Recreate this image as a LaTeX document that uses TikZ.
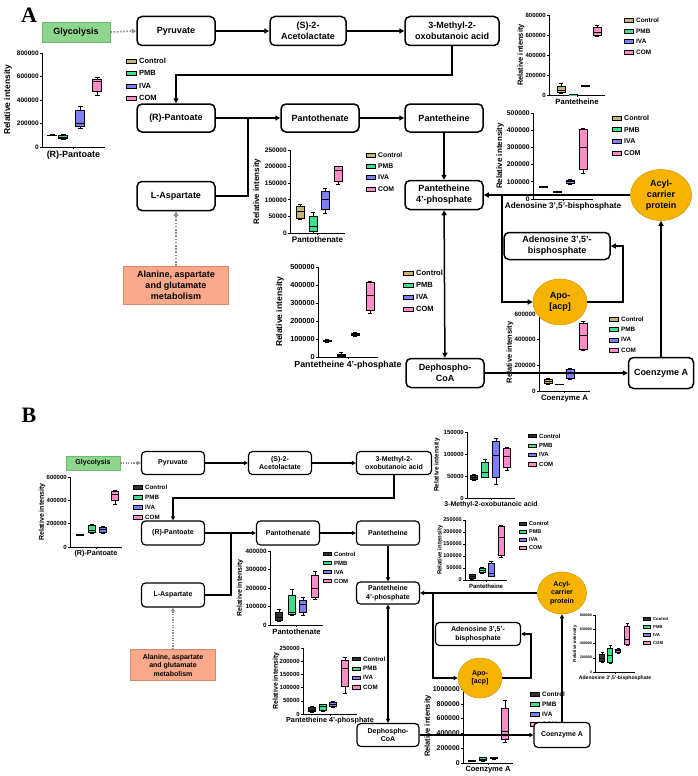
\documentclass[tikz,border=0pt]{standalone}
\usepackage{fontspec}
\setmainfont{Liberation Sans}
\newfontfamily\serifb{Liberation Serif}
\usetikzlibrary{arrows.meta,shapes.geometric,calc}

\definecolor{cctl}{HTML}{C8B474}
\definecolor{cpmb}{HTML}{3EE08A}
\definecolor{civa}{HTML}{7E7EF6}
\definecolor{ccom}{HTML}{FF8CC6}
\definecolor{cctlb}{HTML}{303030}
\definecolor{glyf}{HTML}{8ED68E}
\definecolor{glyd}{HTML}{6DB86D}
\definecolor{alaf}{HTML}{F9A889}
\definecolor{alad}{HTML}{D98A6E}
\definecolor{acpf}{HTML}{F6B400}
\definecolor{acpd}{HTML}{D89A00}
\definecolor{dotg}{HTML}{8E8E8E}

\newcommand\fsl[2]{\fontsize{#1}{#2}\selectfont\bfseries}
\newcommand\fs[1]{\fontsize{#1}{#1}\selectfont\bfseries}

\newcommand\pf[4]{\tikzset{tk/.style={font=\fs{#1}},ttl/.style={font=\fs{#2}},ylab/.style={font=\fs{#3}},bpl/.style={line width=#4},axl/.style={line width=#4}}}

\newcommand\bx[7]{%
 \draw[bpl] (#1,#2) -- (#1,#6);
 \draw[bpl] (#1-\pcap,#2) -- (#1+\pcap,#2) (#1-\pcap,#6) -- (#1+\pcap,#6);
 \filldraw[bpl, fill=#7] (#1-\pbw,#3) rectangle (#1+\pbw,#5);
 \draw[bpl] (#1-\pbw,#4) -- (#1+\pbw,#4);
}

\newcommand\paxes[6]{%
 \draw[axl] (0,#3) -- (0,0) -- (#2,0);
 \foreach \v/\lab [count=\i] in {#4}{\draw[axl] (0,\v) -- (-2,\v) node[tk,left,inner sep=1pt] (#1t\i) {\lab};}
 \draw[axl] (#2/2,0) -- ++(0pt,-2pt);
 \node[ttl,below,inner sep=1pt] (#1ttl) at ([yshift=-2.5pt]#2/2,0) {#5};
 \node[ylab,rotate=90,inner sep=0pt] (#1yl) at ([xshift=-#6pt]0,#3/2) {Relative intensity};
}

\newcommand\plegend[8]{%
 \foreach \nm/\cl [count=\i] in {Control/#5,PMB/cpmb,IVA/civa,COM/ccom}{%
  \pgfmathsetmacro\yy{#3+(\i-1)*#4}
  \filldraw[line width=0.5pt, fill=\cl] (#2,\yy-#7) rectangle (#2+#6,\yy+#7);
  \node[font=\fs{#8},anchor=west,inner sep=0pt] (#1l\i) at (#2+#6+3,\yy) {\nm};
 }}

\tikzset{
 bpl/.style={line width=0.7pt}, axl/.style={line width=0.7pt},
 proc/.style={draw, fill=white, align=center, rounded corners=5pt, line width=1.5pt, inner sep=1pt},
 pa/.style={proc, font=\fsl{9}{11}, minimum width=78pt, minimum height=29pt},
 pb/.style={proc, font=\fsl{7}{8.5}, line width=1.2pt, rounded corners=4pt, minimum width=63pt, minimum height=23pt},
 ell/.style={ellipse, draw=acpd, fill=acpf, line width=0.6pt, align=center, inner sep=0pt},
 arr/.style={line width=1.5pt, -{Triangle[length=5pt,width=5pt]}},
 dbl/.style={line width=1.5pt, {Triangle[length=5pt,width=5pt]}-{Triangle[length=5pt,width=5pt]}},
 arrb/.style={line width=1.2pt, -{Triangle[length=4pt,width=4pt]}},
 dblb/.style={line width=1.2pt, {Triangle[length=4pt,width=4pt]}-{Triangle[length=4pt,width=4pt]}},
 conn/.style={line width=1.5pt},
 connb/.style={line width=1.2pt},
 dotarr/.style={dotg, line width=1.6pt, dash pattern=on 1.6pt off 1.6pt, -{Triangle[length=4.5pt,width=4.5pt]}},
 dotarrb/.style={dotg, line width=1.3pt, dash pattern=on 1.3pt off 1.3pt, -{Triangle[length=4pt,width=4pt]}},
 gly/.style={draw=glyd, fill=glyf, line width=0.6pt},
 ala/.style={draw=alad, fill=alaf, line width=0.6pt, align=center},
 panel/.style={font=\serifb\bfseries\fontsize{22}{22}\selectfont, inner sep=0pt}
}

\begin{document}
\begin{tikzpicture}[x=1pt,y=-1pt]
\useasboundingbox (0,0) rectangle (698,776);

\node[panel] (lA) at (29,15) {A};
\node[panel] (lB) at (29,415) {B};

%================ PANEL A PLOTS =================
\def\pbw{4.5}\def\pcap{2.5}
\begin{scope}[shift={(42pt,-147pt)},x=1pt,y=11.75pt]
 \pf{6.5}{9}{8.5}{0.7pt}
 \paxes{a1}{63}{8}{0/0,2/200000,4/400000,6/600000,8/800000}{(R)-Pantoate}{34}
 \bx{10}{0.95}{0.97}{1.0}{1.02}{1.05}{cctl}
 \bx{21}{0.65}{0.7}{0.8}{0.95}{1.05}{cpmb}
 \bx{38}{1.6}{1.8}{2.0}{3.1}{3.5}{civa}
 \bx{55}{4.4}{4.7}{5.55}{5.8}{5.9}{ccom}
\end{scope}
\plegend{a1}{126}{61}{12.4}{cctl}{10}{2}{7.5}

\def\pbw{4}\def\pcap{2.2}
\begin{scope}[shift={(549pt,-95pt)},x=1pt,y=10pt]
 \pf{6}{7.6}{7.5}{0.7pt}
 \paxes{a2}{56}{8}{0/0,2/200000,4/400000,6/600000,8/800000}{Pantetheine}{28}
 \bx{12}{0.2}{0.25}{0.5}{0.9}{1.2}{cctl}
 \bx{24}{0.02}{0.03}{0.04}{0.05}{0.06}{cpmb}
 \bx{36}{0.85}{0.87}{0.9}{0.95}{0.98}{civa}
 \bx{48}{5.9}{6.0}{6.3}{6.8}{7.0}{ccom}
\end{scope}
\plegend{a2}{624}{20}{10.8}{cctl}{9}{2}{6.4}

\begin{scope}[shift={(533pt,-199pt)},x=1pt,y=17.2pt]
 \pf{6.8}{8.2}{8}{0.7pt}
 \paxes{a3}{60}{5}{0/0,1/100000,2/200000,3/300000,4/400000,5/500000}{Adenosine 3',5'-bisphosphate}{33}
 \bx{10}{0.66}{0.68}{0.7}{0.72}{0.74}{cctl}
 \bx{24}{0.4}{0.41}{0.42}{0.44}{0.45}{cpmb}
 \bx{37}{0.88}{0.92}{1.0}{1.08}{1.12}{civa}
 \bx{50}{1.5}{1.7}{3.0}{4.05}{4.1}{ccom}
\end{scope}
\plegend{a3}{612}{118}{11.7}{cctl}{9}{2}{7}

\begin{scope}[shift={(290pt,-233pt)},x=1pt,y=33.2pt]
 \pf{6.5}{8.1}{8}{0.7pt}
 \paxes{a4}{55}{2.5}{0/0,0.5/50000,1/100000,1.5/150000,2/200000,2.5/250000}{Pantothenate}{33}
 \bx{10}{0.4}{0.45}{0.65}{0.8}{0.85}{cctl}
 \bx{23}{0}{0.05}{0.2}{0.5}{0.62}{cpmb}
 \bx{35}{0.6}{0.7}{1.0}{1.25}{1.35}{civa}
 \bx{48}{1.48}{1.55}{1.9}{2.0}{2.0}{ccom}
\end{scope}
\plegend{a4}{366}{155}{11.3}{cctl}{9}{2}{6.8}

\begin{scope}[shift={(318pt,-357pt)},x=1pt,y=18pt]
 \pf{7.3}{8.8}{8.5}{0.7pt}
 \paxes{a5}{60}{5}{0/0,1/100000,2/200000,3/300000,4/400000,5/500000}{Pantetheine 4'-phosphate}{38}
 \bx{9}{0.83}{0.85}{0.9}{0.95}{0.97}{cctl}
 \bx{23}{0.05}{0.06}{0.1}{0.15}{0.25}{cpmb}
 \bx{37}{1.15}{1.18}{1.25}{1.32}{1.35}{civa}
 \bx{52}{2.4}{2.6}{3.45}{4.15}{4.22}{ccom}
\end{scope}
\plegend{a5}{403}{273}{12}{cctl}{10}{2}{7.5}

\begin{scope}[shift={(539pt,-391pt)},x=1pt,y=12.83pt]
 \pf{6.3}{7.8}{7.5}{0.7pt}
 \paxes{a6}{51}{6}{0/0,2/200000,4/400000,6/600000}{Coenzyme A}{29}
 \bx{9}{0.55}{0.62}{0.75}{0.9}{0.95}{cctl}
 \bx{20}{0.48}{0.49}{0.5}{0.52}{0.53}{cpmb}
 \bx{31}{0.9}{1.0}{1.4}{1.7}{1.75}{civa}
 \bx{44}{3.2}{3.25}{4.3}{5.3}{5.4}{ccom}
\end{scope}
\plegend{a6}{609}{319}{10.4}{cctl}{9}{2}{6.3}

%================ PANEL A DIAGRAM =================
\node[gly, font=\fs{9}, minimum width=68pt, minimum height=20pt] (agly) at (76,32) {Glycolysis};
\node[pa] (apyr) at (176,31) {Pyruvate};
\node[pa, minimum width=76pt] (aace) at (308,31) {(S)-2-\\Acetolactate};
\node[pa, minimum width=94pt] (amet) at (452,31) {3-Methyl-2-\\oxobutanoic acid};
\node[pa, minimum height=28pt] (apan) at (176,118) {(R)-Pantoate};
\node[pa, minimum height=28pt] (apth) at (320,118) {Pantothenate};
\node[pa, minimum height=28pt] (aptt) at (444,118) {Pantetheine};
\node[pa] (aasp) at (176,196) {L-Aspartate};
\node[ala, font=\fsl{9}{11}, minimum width=105pt, minimum height=38pt] (aala) at (176,285) {Alanine, aspartate\\and glutamate\\metabolism};
\node[pa] (ap4p) at (444,195) {Pantetheine\\4'-phosphate};
\node[ell, font=\fsl{9}{11}, minimum width=61pt, minimum height=51pt] (aacp) at (661,195) {Acyl-\\carrier\\protein};
\node[pa, minimum width=106pt, minimum height=27pt] (aado) at (557,246) {Adenosine 3',5'-\\bisphosphate};
\node[ell, font=\fsl{9}{11}, minimum width=54pt, minimum height=46pt] (aapo) at (560,302) {Apo-\\{[acp]}};
\node[pa] (adep) at (445,373) {Dephospho-\\CoA};
\node[pa, minimum width=65pt, minimum height=31pt] (acoa) at (661,373) {Coenzyme A};

\draw[dotarr] (agly.east) -- (apyr.west);
\draw[arr] (apyr) -- (aace);
\draw[arr] (aace) -- (amet);
\coordinate (ja1) at (452,75);
\draw[arr] (amet.south) -- (ja1) -| (apan.north);
\draw[arr] (apan) -- (apth);
\draw[arr] (apth) -- (aptt);
\coordinate (ja2) at (248,118);
\draw[conn] (aasp.east) -| (ja2);
\draw[dotarr] (aala.north) -- (aasp.south);
\draw[arr] (aptt) -- (ap4p);
\draw[arr] (aacp.west) -- (ap4p.east);
\coordinate (ja3) at (502,195);
\draw[arr] (ja3) |- (aapo.west);
\coordinate (ja4) at (623,302);
\draw[arr] (aapo.east) -- (ja4) |- (aado.east);
\draw[dbl] (ap4p) -- (adep);
\draw[arr] (adep) -- (acoa);
\draw[arr] (acoa.north) -- (aacp.south);

%================ PANEL B PLOTS =================
\def\pbw{3.5}\def\pcap{2}
\begin{scope}[shift={(70pt,-547pt)},x=1pt,y=11.67pt]
 \pf{6}{7.2}{7}{0.55pt}
 \paxes{b1}{52}{6}{0/0,2/200000,4/400000,6/600000}{(R)-Pantoate}{28}
 \bx{10}{1.0}{1.02}{1.05}{1.08}{1.1}{cctlb}
 \bx{22}{1.2}{1.25}{1.4}{1.85}{1.95}{cpmb}
 \bx{33}{1.2}{1.3}{1.5}{1.7}{1.75}{civa}
 \bx{45}{3.7}{4.0}{4.5}{4.75}{4.9}{ccom}
\end{scope}
\plegend{b1}{133}{487}{10}{cctlb}{9}{1.8}{6.2}

\begin{scope}[shift={(467pt,-498pt)},x=1pt,y=44pt]
 \pf{6}{6.9}{6.5}{0.55pt}
 \paxes{b2}{48}{1.5}{0/0,0.5/50000,1/100000,1.5/150000}{3-Methyl-2-oxobutanoic acid}{30}
 \bx{7}{0.4}{0.42}{0.47}{0.52}{0.55}{cctlb}
 \bx{18}{0.47}{0.47}{0.58}{0.82}{0.87}{cpmb}
 \bx{29}{0.32}{0.47}{0.97}{1.3}{1.35}{civa}
 \bx{40}{0.63}{0.7}{0.95}{1.12}{1.15}{ccom}
\end{scope}
\plegend{b2}{528}{436}{9.4}{cctlb}{8}{1.6}{6}

\def\pbw{3}\def\pcap{1.8}
\begin{scope}[shift={(465pt,-580pt)},x=1pt,y=24pt]
 \pf{5.5}{6}{6}{0.5pt}
 \paxes{b3}{42}{2.5}{0/0,0.5/50000,1/100000,1.5/150000,2/200000,2.5/250000}{Pantetheine}{25}
 \bx{7}{0.05}{0.08}{0.15}{0.22}{0.25}{cctlb}
 \bx{17}{0.3}{0.32}{0.4}{0.5}{0.55}{cpmb}
 \bx{26}{0.15}{0.15}{0.3}{0.7}{0.8}{civa}
 \bx{36}{0.95}{1.05}{1.8}{2.25}{2.3}{ccom}
\end{scope}
\plegend{b3}{519}{524}{8}{cctlb}{7}{1.5}{5.5}

\def\pbw{3.5}\def\pcap{2}
\begin{scope}[shift={(270pt,-625pt)},x=1pt,y=18.5pt]
 \pf{6.3}{7.6}{7}{0.55pt}
 \paxes{b4}{53}{4}{0/0,1/100000,2/200000,3/300000,4/400000}{Pantothenate}{30}
 \bx{9}{0.2}{0.25}{0.4}{0.7}{0.85}{cctlb}
 \bx{22}{0.55}{0.6}{0.7}{1.6}{1.95}{cpmb}
 \bx{33}{0.55}{0.7}{1.1}{1.35}{1.5}{civa}
 \bx{45}{1.4}{1.5}{2.0}{2.7}{2.9}{ccom}
\end{scope}
\plegend{b4}{323}{554}{9}{cctlb}{8}{1.6}{6}

\begin{scope}[shift={(303pt,-714pt)},x=1pt,y=26.4pt]
 \pf{6}{7.2}{7}{0.55pt}
 \paxes{b5}{54}{2.5}{0/0,0.5/50000,1/100000,1.5/150000,2/200000,2.5/250000}{Pantetheine 4'-phosphate}{27}
 \bx{9}{0.05}{0.1}{0.15}{0.25}{0.28}{cctlb}
 \bx{20}{0.1}{0.15}{0.28}{0.35}{0.38}{cpmb}
 \bx{30}{0.25}{0.28}{0.35}{0.45}{0.48}{civa}
 \bx{42}{0.8}{1.05}{1.75}{2.05}{2.15}{ccom}
\end{scope}
\plegend{b5}{352}{659}{9.4}{cctlb}{8}{1.6}{6.2}

\begin{scope}[shift={(463pt,-763pt)},x=1pt,y=7.4pt]
 \pf{6.9}{7.5}{7.5}{0.55pt}
 \paxes{b6}{50}{10}{0/0,2/200000,4/400000,6/600000,8/800000,10/1000000}{Coenzyme A}{35}
 \bx{9}{0.2}{0.22}{0.28}{0.32}{0.35}{cctlb}
 \bx{20}{0.3}{0.4}{0.55}{0.75}{0.8}{cpmb}
 \bx{31}{0.55}{0.6}{0.65}{0.72}{0.75}{civa}
 \bx{42}{2.8}{3.2}{4.3}{7.4}{8.5}{ccom}
\end{scope}
\plegend{b6}{530}{694}{10}{cctlb}{9}{2}{6.4}

\def\pbw{2.5}\def\pcap{1.5}
\begin{scope}[shift={(595pt,-672pt)},x=1pt,y=7.125pt]
 \pf{3.6}{5.1}{4.5}{0.45pt}
 \paxes{b7}{40}{8}{0/0,2/200000,4/400000,6/600000,8/800000}{Adenosine 3',5'-bisphosphate}{20}
 \bx{7}{1.4}{1.5}{2.0}{2.5}{2.8}{cctlb}
 \bx{15}{1.2}{1.4}{2.4}{3.4}{3.7}{cpmb}
 \bx{23}{2.6}{2.8}{3.0}{3.2}{3.3}{civa}
 \bx{32}{3.7}{3.9}{4.6}{6.4}{6.8}{ccom}
\end{scope}
\plegend{b7}{643}{619}{8}{cctlb}{7}{1.5}{4.2}

%================ PANEL B DIAGRAM =================
\node[gly, font=\fs{7}, minimum width=54pt, minimum height=14pt] (bgly) at (93,463) {Glycolysis};
\node[pb] (bpyr) at (173,463) {Pyruvate};
\node[pb] (bace) at (280,463) {(S)-2-\\Acetolactate};
\node[pb, minimum width=75pt] (bmet) at (394,463) {3-Methyl-2-\\oxobutanoic acid};
\node[pb, minimum height=24pt] (bpan) at (173,533) {(R)-Pantoate};
\node[pb, minimum height=24pt] (bpth) at (288,533) {Pantothenate};
\node[pb, minimum height=24pt] (bptt) at (388,533) {Pantetheine};
\node[pb, minimum height=24pt] (basp) at (173,595) {L-Aspartate};
\node[ala, font=\fsl{7}{8.5}, minimum width=85pt, minimum height=31pt] (bala) at (173,665) {Alanine, aspartate\\and glutamate\\metabolism};
\node[pb, minimum height=22pt] (bp4p) at (388,593) {Pantetheine\\4'-phosphate};
\node[ell, font=\fsl{7}{8.5}, minimum width=49pt, minimum height=42pt] (bacp) at (562,593) {Acyl-\\carrier\\protein};
\node[pb, minimum width=85pt] (bado) at (478,634) {Adenosine 3',5'-\\bisphosphate};
\node[ell, font=\fsl{7}{8.5}, minimum width=44pt, minimum height=40pt] (bapo) at (480,678) {Apo-\\{[acp]}};
\node[pb, minimum width=62pt] (bdep) at (388,735) {Dephospho-\\CoA};
\node[pb, minimum width=56pt, minimum height=25pt] (bcoa) at (562,735) {Coenzyme A};

\draw[dotarrb] (bgly.east) -- (bpyr.west);
\draw[arrb] (bpyr) -- (bace);
\draw[arrb] (bace) -- (bmet);
\coordinate (jb1) at (394,498);
\draw[arrb] (bmet.south) -- (jb1) -| (bpan.north);
\draw[arrb] (bpan) -- (bpth);
\draw[arrb] (bpth) -- (bptt);
\coordinate (jb2) at (231,533);
\draw[connb] (basp.east) -| (jb2);
\draw[dotarrb] (bala.north) -- (basp.south);
\draw[arrb] (bptt) -- (bp4p);
\draw[arrb] (bacp.west) -- (bp4p.east);
\coordinate (jb3) at (433,593);
\draw[arrb] (jb3) |- (bapo.west);
\coordinate (jb4) at (531,678);
\draw[arrb] (bapo.east) -- (jb4) |- (bado.east);
\draw[dblb] (bp4p) -- (bdep);
\draw[arrb] (bdep) -- (bcoa);
\draw[arrb] (bcoa.north) -- (bacp.south);
\end{tikzpicture}
\end{document}
